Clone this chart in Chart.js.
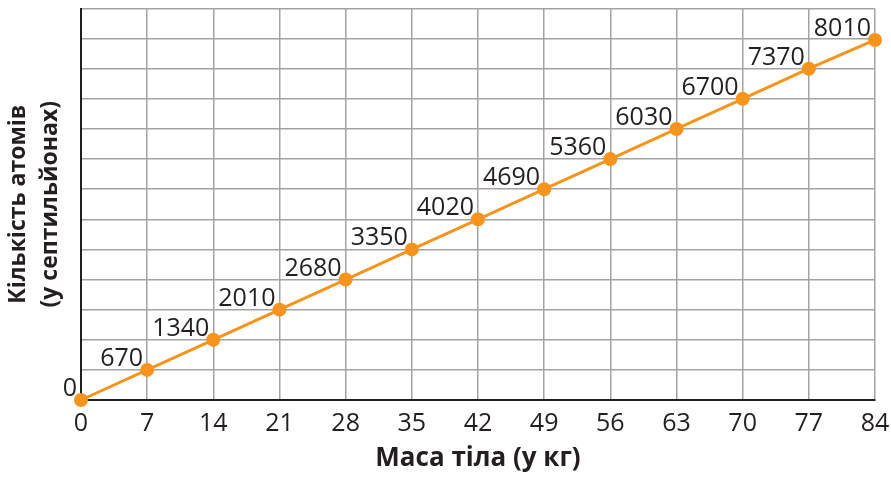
<!DOCTYPE html>
<html>
<head>
<meta charset="utf-8">
<script src="https://cdn.jsdelivr.net/npm/chart.js@4/dist/chart.umd.min.js"></script>
<style>
  html, body { margin: 0; padding: 0; background: #fff; }
  #wrap { width: 891px; height: 478px; }
</style>
</head>
<body>
<div id="wrap"><canvas id="grafik"></canvas></div>
<script>
const masa = [0, 7, 14, 21, 28, 35, 42, 49, 56, 63, 70, 77, 84];
const atomy = [0, 670, 1340, 2010, 2680, 3350, 4020, 4690, 5360, 6030, 6700, 7370, 8010];
const yKrok = 670;
const yMaks = 8710;

Chart.defaults.font.family = '"Open Sans", sans-serif';
Chart.defaults.color = '#231f20';

// підписи значень біля точок
const pidpysy = {
  id: 'pidpysy',
  afterDatasetsDraw(chart) {
    const c = chart.ctx;
    const meta = chart.getDatasetMeta(0);
    c.save();
    c.font = '25px "Open Sans", sans-serif';
    c.fillStyle = '#231f20';
    c.textAlign = 'right';
    c.textBaseline = 'alphabetic';
    meta.data.forEach((p, i) => {
      c.fillText(String(atomy[i]), p.x - 4, p.y - 4);
    });
    c.restore();
  }
};

new Chart(document.getElementById('grafik'), {
  type: 'line',
  data: {
    datasets: [{
      data: masa.map((m, i) => ({ x: m, y: atomy[i] })),
      borderColor: '#f7941d',
      backgroundColor: '#f7941d',
      borderWidth: 3,
      pointRadius: 5.5,
      pointHoverRadius: 5.5,
      tension: 0,
      clip: false
    }]
  },
  options: {
    responsive: true,
    maintainAspectRatio: false,
    animation: false,
    layout: { padding: { top: 7, right: 0, left: 0, bottom: 0 } },
    plugins: { legend: { display: false }, tooltip: { enabled: false } },
    scales: {
      x: {
        type: 'linear',
        min: 0,
        max: 84,
        ticks: { stepSize: 7, padding: 9, font: { size: 25 }, color: '#231f20' },
        grid: { color: '#a3a3a3', lineWidth: 1.5, drawTicks: false },
        border: { color: '#231f20', width: 2 },
        title: {
          display: true,
          text: 'Маса тіла (у кг)',
          font: { size: 26, weight: 'bold' },
          color: '#231f20',
          padding: { top: 0 }
        },
        afterFit(s) { s.height = 78; s.paddingRight = 16; }
      },
      y: {
        min: 0,
        max: yMaks,
        ticks: { stepSize: yKrok, display: false },
        grid: { color: '#a3a3a3', lineWidth: 1.5, drawTicks: false },
        border: { color: '#231f20', width: 2 },
        title: {
          display: true,
          text: ['Кількість атомів', '(у септильйонах)'],
          font: { size: 23, weight: 'bold', lineHeight: 1.4 },
          color: '#231f20',
          padding: { top: 2, bottom: 0 }
        },
        afterFit(s) { s.width = 81; }
      }
    }
  },
  plugins: [pidpysy]
});
</script>
</body>
</html>
